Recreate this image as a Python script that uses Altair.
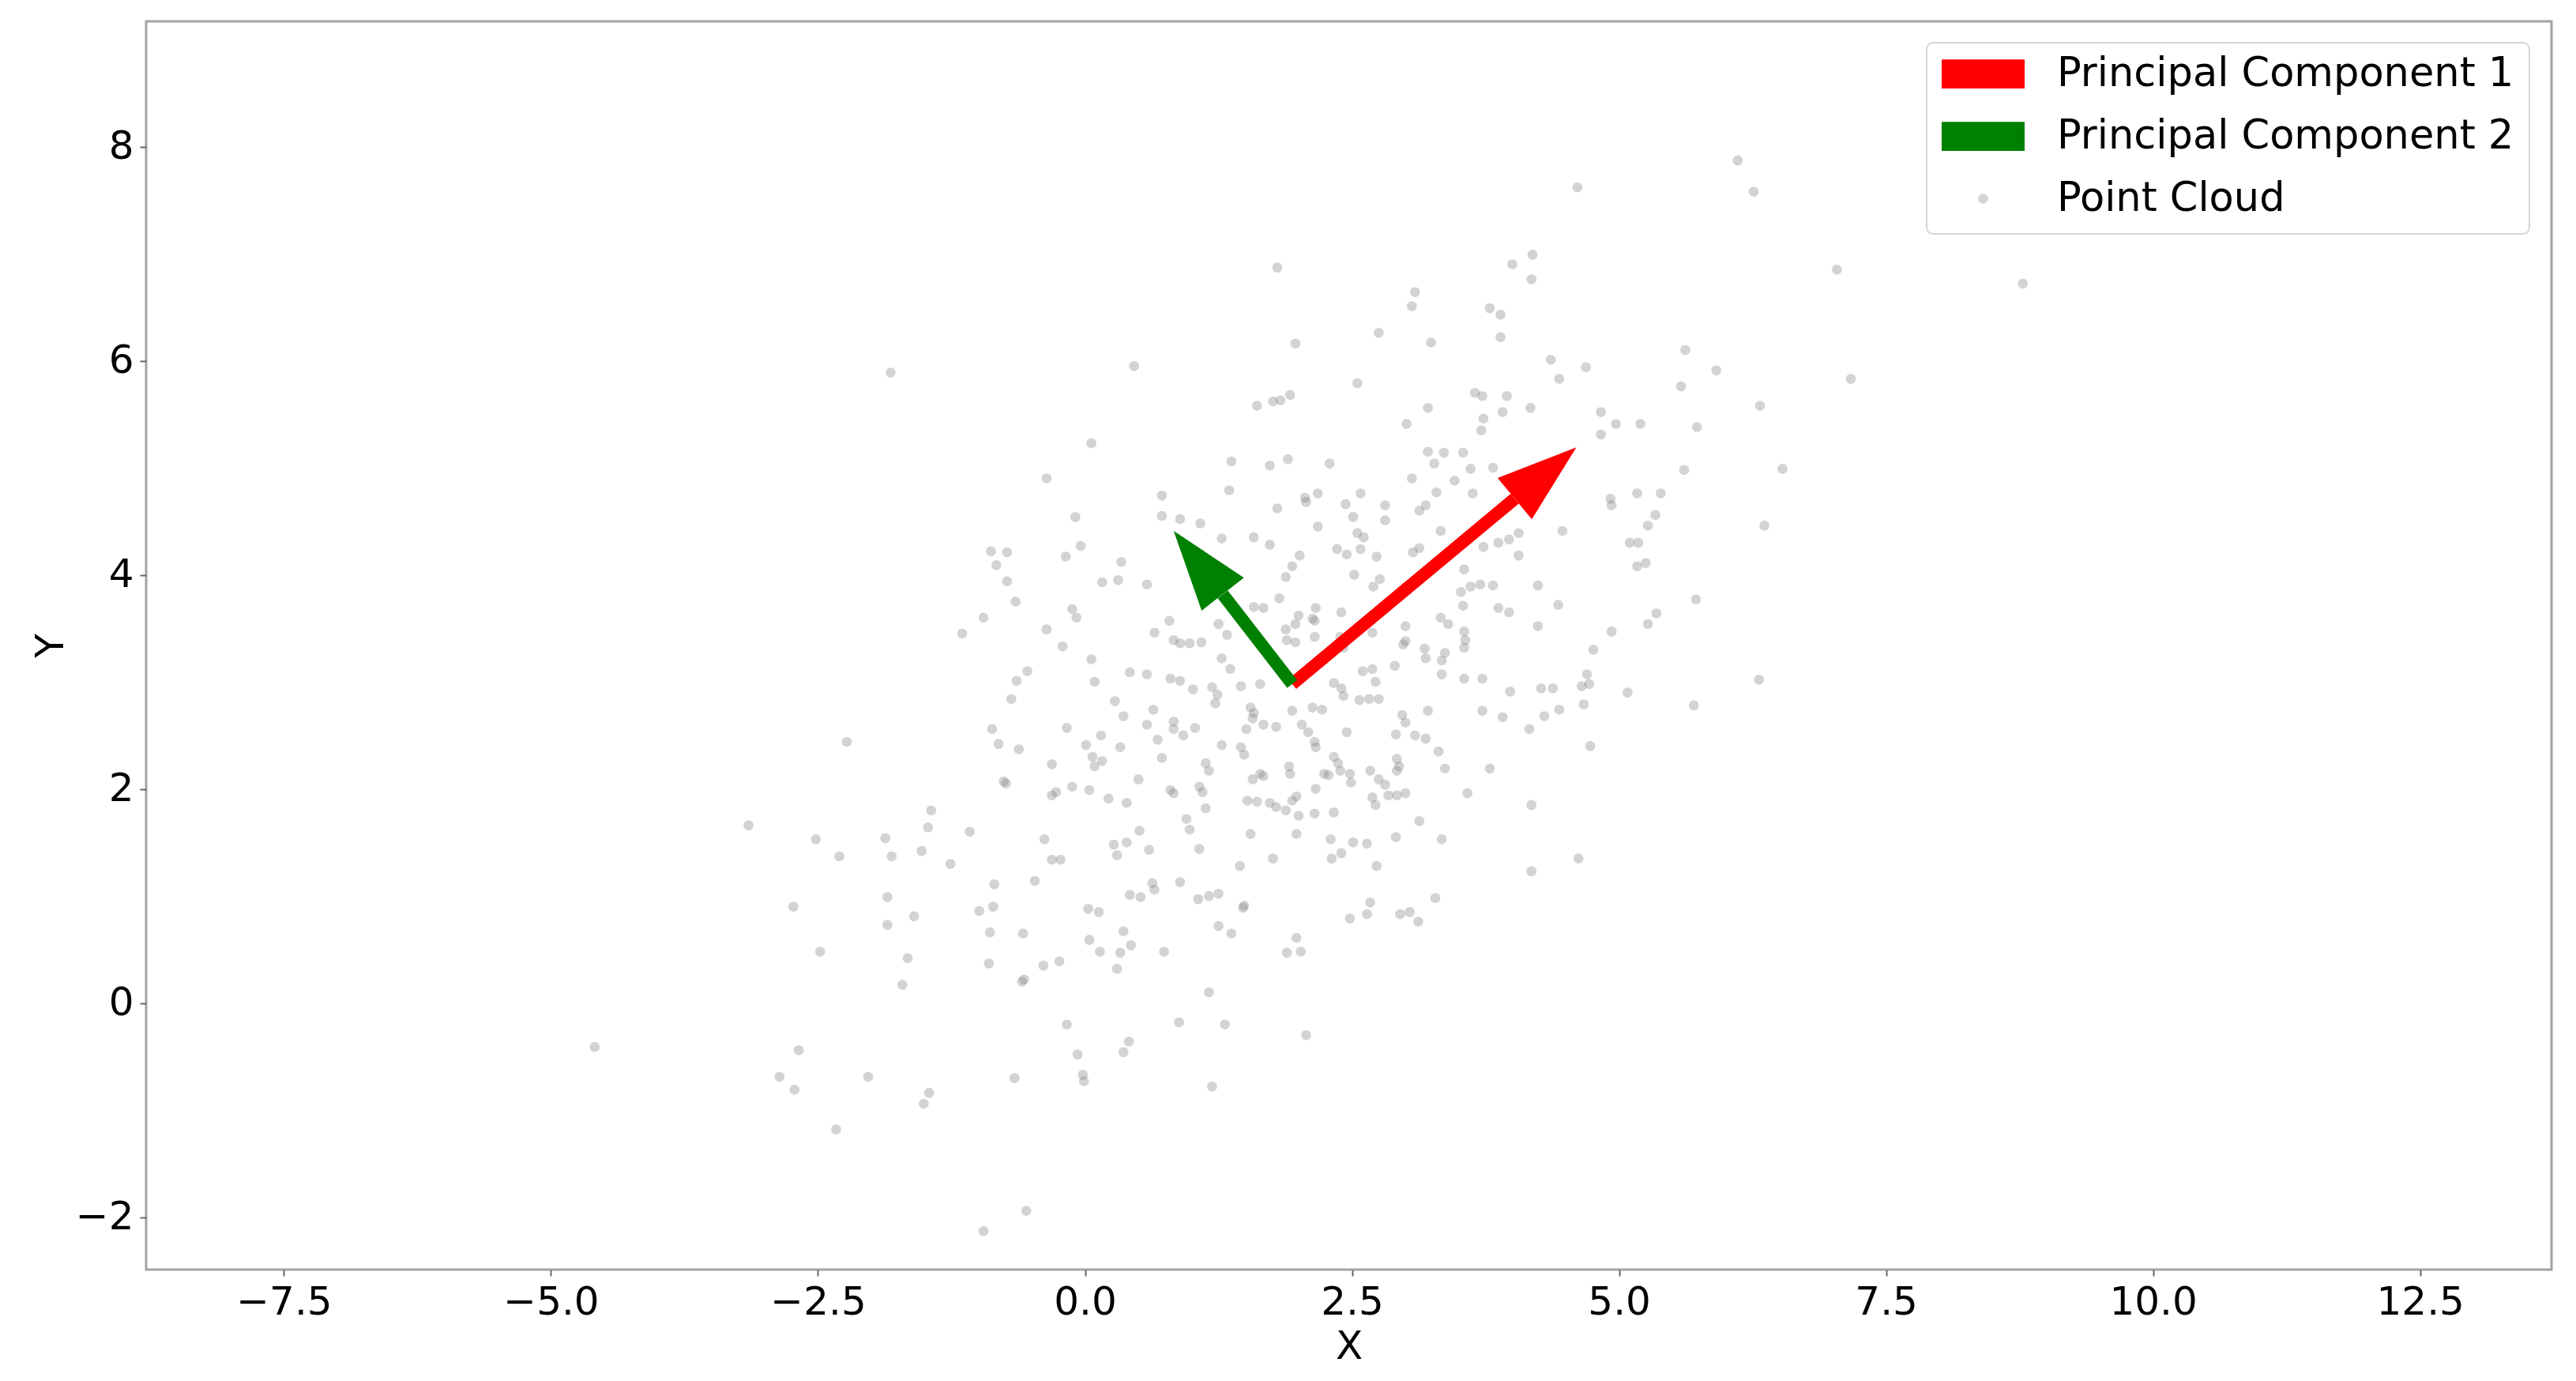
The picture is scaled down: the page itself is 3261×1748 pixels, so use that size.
import math
import altair as alt
import pandas as pd

# ---------------- data ----------------
cloud_xy = [
    (-1.82, 5.89), (-0.36, 4.90),
    (1.80, 6.87), (4.19, 6.99), (4.00, 6.90), (4.18, 6.76), (3.09, 6.64), (3.06, 6.51), (3.79, 6.49),
    (3.89, 6.43), (2.75, 6.26), (3.24, 6.17), (3.89, 6.22), (1.97, 6.16), (0.46, 5.95), (4.36, 6.01),
    (2.55, 5.79), (1.61, 5.58), (1.76, 5.62), (1.83, 5.63), (1.92, 5.68), (3.21, 5.56), (3.01, 5.41),
    (3.65, 5.70), (3.72, 5.67), (3.95, 5.67), (3.91, 5.52), (4.17, 5.56), (3.73, 5.46), (3.71, 5.35),
    (0.06, 5.23), (1.37, 5.06), (1.73, 5.02), (1.90, 5.08), (2.29, 5.04), (3.21, 5.15), (3.36, 5.14),
    (3.54, 5.14), (3.27, 5.04), (3.61, 4.99), (3.06, 4.90), (3.46, 4.88), (0.72, 4.74), (1.35, 4.79),
    (3.29, 4.77), (3.63, 4.76), (2.58, 4.76), (2.06, 4.72), (2.18, 4.76), (3.82, 5.00),
    (6.11, 7.87), (4.61, 7.62), (6.26, 7.58), (7.04, 6.85), (8.78, 6.72), (5.62, 6.10), (5.91, 5.91),
    (5.58, 5.76), (7.17, 5.83), (6.32, 5.58), (4.69, 5.94), (4.44, 5.83), (4.83, 5.52), (4.97, 5.41),
    (5.20, 5.41), (4.83, 5.31), (5.73, 5.38), (5.61, 4.98), (6.53, 4.99), (5.17, 4.76), (5.39, 4.76),
    (4.92, 4.71),
    (4.93, 4.65), (5.34, 4.56), (5.27, 4.46), (4.47, 4.41), (6.36, 4.46), (5.10, 4.30), (5.18, 4.30),
    (5.17, 4.08), (5.25, 4.11), (4.43, 3.72), (5.72, 3.77), (5.35, 3.64), (5.27, 3.54), (4.93, 3.47),
    (4.76, 3.30), (4.70, 3.07), (4.65, 2.96), (4.72, 2.98), (4.38, 2.94), (5.08, 2.90), (6.31, 3.02),
    (4.67, 2.79), (4.44, 2.74), (5.70, 2.78), (4.73, 2.40), (4.62, 1.35),
    (-0.88, 4.22), (-0.73, 4.21), (-0.83, 4.09), (-0.73, 3.94), (-0.65, 3.75), (-0.95, 3.60),
    (-1.15, 3.45), (-0.36, 3.49), (-0.54, 3.10), (-0.64, 3.01), (-0.69, 2.84), (-0.87, 2.56),
    (-0.81, 2.42), (-0.62, 2.37), (-2.23, 2.44), (-0.74, 2.05), (-0.76, 2.07), (-0.31, 2.23),
    (-0.31, 1.94), (-1.44, 1.80), (-1.47, 1.64), (-1.08, 1.60), (-0.38, 1.53), (-3.15, 1.66),
    (-2.52, 1.53), (-2.30, 1.37), (-1.87, 1.54), (-1.81, 1.37), (-1.53, 1.42), (-1.26, 1.30),
    (-0.31, 1.34), (-0.47, 1.14), (-0.85, 1.11),
    (-2.73, 0.90), (-1.85, 0.99), (-1.60, 0.81), (-1.85, 0.73), (-0.99, 0.86), (-0.86, 0.90),
    (-0.89, 0.66), (-0.58, 0.65), (-2.48, 0.48), (-1.66, 0.42), (-1.71, 0.17), (-0.90, 0.37),
    (-0.39, 0.35), (-0.59, 0.20), (-0.57, 0.22), (-4.59, -0.41), (-2.68, -0.44), (-2.86, -0.69),
    (-2.72, -0.81), (-2.03, -0.69), (-1.46, -0.84), (-1.51, -0.94), (-2.33, -1.18), (-0.66, -0.70),
    (-0.55, -1.94), (-0.95, -2.13),
    (0.63, 1.12), (0.65, 1.06), (0.89, 1.13), (0.42, 1.01), (0.52, 0.99), (0.03, 0.88), (0.13, 0.85),
    (1.06, 0.97), (1.16, 1.00), (1.25, 1.02), (1.48, 0.89), (1.49, 0.91), (1.25, 0.72), (1.37, 0.65),
    (0.36, 0.67), (0.04, 0.59), (0.14, 0.48), (0.33, 0.47), (0.43, 0.54), (-0.24, 0.39), (0.30, 0.32),
    (0.74, 0.48), (1.98, 0.61), (1.89, 0.47), (2.02, 0.48), (2.48, 0.79), (2.67, 0.94), (2.64, 0.83),
    (2.95, 0.83), (3.04, 0.85), (3.12, 0.76), (3.28, 0.98), (1.16, 0.10), (-0.17, -0.20), (0.88, -0.18),
    (1.31, -0.20), (2.07, -0.30), (0.41, -0.36), (0.36, -0.46), (-0.07, -0.48), (-0.02, -0.67),
    (-0.01, -0.73), (1.19, -0.78),
    (-0.09, 4.54), (0.72, 4.55), (0.89, 4.52), (1.08, 4.48), (-0.04, 4.27), (-0.18, 4.17), (1.28, 4.34),
    (1.58, 4.35), (1.73, 4.28), (1.80, 4.62), (2.07, 4.68), (2.44, 4.66), (2.51, 4.54), (2.81, 4.65),
    (2.81, 4.51), (3.13, 4.60), (3.19, 4.65), (2.18, 4.45), (2.55, 4.39), (2.61, 4.35), (2.36, 4.24),
    (2.45, 4.19), (2.58, 4.24), (2.73, 4.17), (3.33, 4.41), (4.06, 4.39), (4.06, 4.18), (3.73, 4.26),
    (3.87, 4.30), (3.97, 4.33), (3.07, 4.21), (3.13, 4.25), (3.55, 4.05), (4.24, 3.90), (0.34, 4.12),
    (0.16, 3.93), (0.31, 3.95), (0.58, 3.91), (1.88, 3.98), (1.94, 4.08), (2.01, 4.18), (2.52, 4.00),
    (2.70, 3.89), (2.76, 3.96), (3.52, 3.84), (3.61, 3.89), (3.70, 3.91), (3.82, 3.90), (3.54, 3.71),
    (3.87, 3.69), (3.97, 3.65), (3.33, 3.60), (3.40, 3.54), (4.24, 3.52), (3.00, 3.52), (2.69, 3.46),
    (3.55, 3.47), (3.56, 3.39), (3.55, 3.32), (3.37, 3.27), (3.34, 3.20), (3.18, 3.31), (3.19, 3.22),
    (2.98, 3.35), (2.90, 3.15), (3.34, 3.07), (3.55, 3.03), (3.72, 3.03), (3.98, 2.91), (4.27, 2.94),
    (2.40, 3.65), (2.16, 3.69), (2.13, 3.59), (2.00, 3.62), (1.97, 3.54), (1.88, 3.49), (1.89, 3.39),
    (2.69, 3.12), (2.60, 3.10), (2.72, 3.00), (2.57, 2.83), (2.66, 2.84), (2.75, 2.84), (2.40, 2.94),
    (2.42, 2.87), (2.33, 2.99), (3.00, 3.38), (3.21, 2.73), (2.97, 2.69), (3.00, 2.62), (3.72, 2.73),
    (3.91, 2.67), (4.30, 2.68), (4.16, 2.56), (2.13, 2.76), (2.22, 2.74), (1.94, 2.73), (1.55, 2.76),
    (1.58, 2.71), (1.57, 2.66), (1.67, 2.60), (1.79, 2.58), (1.51, 2.56), (2.03, 2.60), (2.09, 2.53),
    (2.15, 2.44), (2.16, 2.39), (2.45, 2.53), (2.91, 2.51), (3.09, 2.50), (3.19, 2.47), (3.31, 2.35),
    (3.79, 2.19), (4.18, 1.85), (2.92, 2.28), (2.94, 2.21), (2.92, 2.17), (2.67, 2.17), (2.75, 2.09),
    (2.81, 2.04), (2.48, 2.14), (2.49, 2.06), (2.24, 2.14), (2.28, 2.13), (2.39, 2.17), (2.33, 2.30),
    (2.37, 2.24), (3.37, 2.19), (2.69, 1.92), (2.72, 1.85), (2.84, 1.94), (2.92, 1.94), (3.00, 1.96),
    (3.58, 1.96), (3.13, 1.70), (3.34, 1.53), (2.91, 1.55), (2.15, 1.77), (2.33, 1.78), (2.16, 2.00),
    (1.98, 1.93), (2.00, 1.75), (1.98, 1.58), (2.30, 1.53), (2.40, 1.40), (2.51, 1.50), (2.64, 1.49),
    (2.31, 1.35), (2.73, 1.28), (4.18, 1.23), (1.55, 1.58), (1.76, 1.35), (1.45, 1.28), (1.07, 1.44),
    (0.95, 1.72), (0.98, 1.62), (0.51, 1.61), (0.27, 1.48), (0.30, 1.38), (0.39, 1.50), (0.60, 1.43),
    (-0.23, 1.34), (1.57, 2.09), (1.64, 2.14), (1.67, 2.12), (1.52, 1.89), (1.61, 1.88), (1.73, 1.87),
    (1.79, 1.83), (1.88, 1.80), (1.94, 1.89), (1.91, 2.21), (1.92, 2.14), (1.13, 2.24), (1.16, 2.17),
    (1.07, 2.02), (1.10, 1.97), (1.13, 1.82), (0.80, 1.99), (0.83, 1.96), (1.28, 2.41), (1.46, 2.39),
    (1.49, 2.32), (0.72, 2.29), (0.68, 2.46), (0.83, 2.56), (0.92, 2.50), (1.03, 2.57), (0.83, 2.63),
    (0.58, 2.60), (0.33, 2.39), (0.15, 2.50), (0.01, 2.41), (0.07, 2.30), (0.16, 2.26), (0.09, 2.21),
    (-0.17, 2.57), (0.36, 2.68), (0.28, 2.82), (0.64, 2.74), (0.09, 3.00), (0.42, 3.09), (0.58, 3.07),
    (0.80, 3.03), (0.89, 3.01), (1.01, 2.93), (1.19, 2.95), (1.24, 2.88), (1.22, 2.80), (1.46, 2.96),
    (1.64, 2.98), (0.06, 3.21), (-0.21, 3.33), (-0.12, 3.68), (-0.08, 3.60), (0.65, 3.46), (0.79, 3.57),
    (0.83, 3.39), (0.89, 3.36), (0.98, 3.36), (1.09, 3.37), (1.25, 3.54), (1.33, 3.44), (1.28, 3.22),
    (1.36, 3.12), (1.58, 3.70), (1.67, 3.69), (1.82, 3.78), (2.15, 3.42), (2.39, 3.42), (2.42, 3.32),
    (1.97, 3.37), (2.15, 3.57), (-0.12, 2.02), (0.04, 1.99), (-0.27, 1.97), (0.22, 1.91), (0.39, 1.87),
    (0.50, 2.09),
]

series_names = ["Principal Component 1", "Principal Component 2", "Point Cloud"]
series_colors = ["#ff0000", "#008000", "#808080"]
series_opacity = [1.0, 1.0, 0.35]

origin = (1.94, 2.98)          # mean of the cloud (arrow start)
pc_dx = [2.66, -1.11]          # arrow vectors, tip minus origin
pc_dy = [2.21, 1.43]
head_length = 0.75             # arrow head length in data units

x_domain = [-8.79, 13.73]
y_domain = [-2.49, 9.17]
x_ticks = [-7.5, -5.0, -2.5, 0.0, 2.5, 5.0, 7.5, 10.0, 12.5]
y_ticks = [-2, 0, 2, 4, 6, 8]

# ---------------- frames ----------------
cloud_df = pd.DataFrame(cloud_xy, columns=["x", "y"])
cloud_df["series"] = "Point Cloud"

rows = []
for name, dx, dy in zip(series_names[:2], pc_dx, pc_dy):
    length = math.hypot(dx, dy)
    ux, uy = dx / length, dy / length
    tx, ty = origin[0] + dx, origin[1] + dy
    rows.append({
        "series": name,
        "x0": origin[0], "y0": origin[1],
        "x1": tx - head_length * ux, "y1": ty - head_length * uy,
        "tx": tx, "ty": ty,
        "ang": (90 - math.degrees(math.atan2(dy, dx))) % 360,
    })
arrow_df = pd.DataFrame(rows)

# ---------------- style ----------------
FONT = "DejaVu Sans"
W, H = 3045, 1580
RECT = "M-1,-0.35L1,-0.35L1,0.35L-1,0.35Z"
DOT = ("M0,-0.12C0.0663,-0.12,0.12,-0.0663,0.12,0C0.12,0.0663,0.0663,0.12,0,0.12"
       "C-0.0663,0.12,-0.12,0.0663,-0.12,0C-0.12,-0.0663,-0.0663,-0.12,0,-0.12Z")
HEAD = "M0,0L0.334,1L-0.334,1Z"
head_px = head_length * W / (x_domain[1] - x_domain[0])
head_size = (2 * head_px) ** 2

xs = alt.Scale(domain=x_domain, nice=False, zero=False)
ys = alt.Scale(domain=y_domain, nice=False, zero=False)
color_scale = alt.Scale(domain=series_names, range=series_colors)
shape_scale = alt.Scale(domain=series_names, range=[RECT, RECT, DOT])
opacity_scale = alt.Scale(type="ordinal", domain=series_names, range=series_opacity)

x_axis = alt.Axis(values=x_ticks, labelExpr="replace(format(datum.value, '.1f'), '-', '\u2212')")
y_axis = alt.Axis(values=y_ticks, labelExpr="replace(format(datum.value, 'd'), '-', '\u2212')")

points = alt.Chart(cloud_df).mark_point(filled=True, size=11025, strokeWidth=0).encode(
    x=alt.X("x:Q", scale=xs, axis=x_axis, title="X"),
    y=alt.Y("y:Q", scale=ys, axis=y_axis, title="Y"),
    color=alt.Color("series:N", scale=color_scale, legend=alt.Legend(title=None)),
    shape=alt.Shape("series:N", scale=shape_scale, legend=alt.Legend(title=None)),
    opacity=alt.Opacity("series:N", scale=opacity_scale, legend=alt.Legend(title=None)),
)

shafts = alt.Chart(arrow_df).mark_rule(strokeWidth=16, strokeCap="butt").encode(
    x=alt.X("x0:Q", scale=xs), y=alt.Y("y0:Q", scale=ys),
    x2="x1:Q", y2="y1:Q",
    color=alt.Color("series:N", scale=color_scale, legend=None),
)

heads = alt.Chart(arrow_df).mark_point(shape=HEAD, size=head_size, filled=True,
                                       opacity=1, strokeWidth=0).encode(
    x=alt.X("tx:Q", scale=xs), y=alt.Y("ty:Q", scale=ys),
    angle=alt.Angle("ang:Q", scale=None),
    color=alt.Color("series:N", scale=color_scale, legend=None),
)

chart = (
    alt.layer(points, shafts, heads)
    .properties(
        width=W, height=H,
        padding={"left": 177, "top": 19, "right": 23, "bottom": 132},
        autosize=alt.AutoSizeParams(type="none"),
        background="white",
    )
    .configure_view(stroke="#a3a3a3", strokeWidth=3)
    .configure_axis(
        labelFont=FONT, labelFontSize=50, labelColor="#000000",
        titleFont=FONT, titleFontSize=50, titleFontWeight="normal", titleColor="#000000",
        tickColor="#666666", tickWidth=2, tickSize=8, labelPadding=8, titlePadding=6,
        domain=False, grid=False,
    )
    .configure_legend(
        orient="none", legendX=2254, legendY=27, padding=19,
        strokeColor="#d6d6d6", strokeWidth=2, cornerRadius=8, fillColor="white",
        labelFont=FONT, labelFontSize=51, labelColor="#000000", labelLimit=2000,
        symbolSize=11025, symbolStrokeWidth=0, labelOffset=41, clipHeight=41, rowPadding=27,
    )
)

chart.save("out.html", embed_options={"renderer": "svg", "actions": False})
